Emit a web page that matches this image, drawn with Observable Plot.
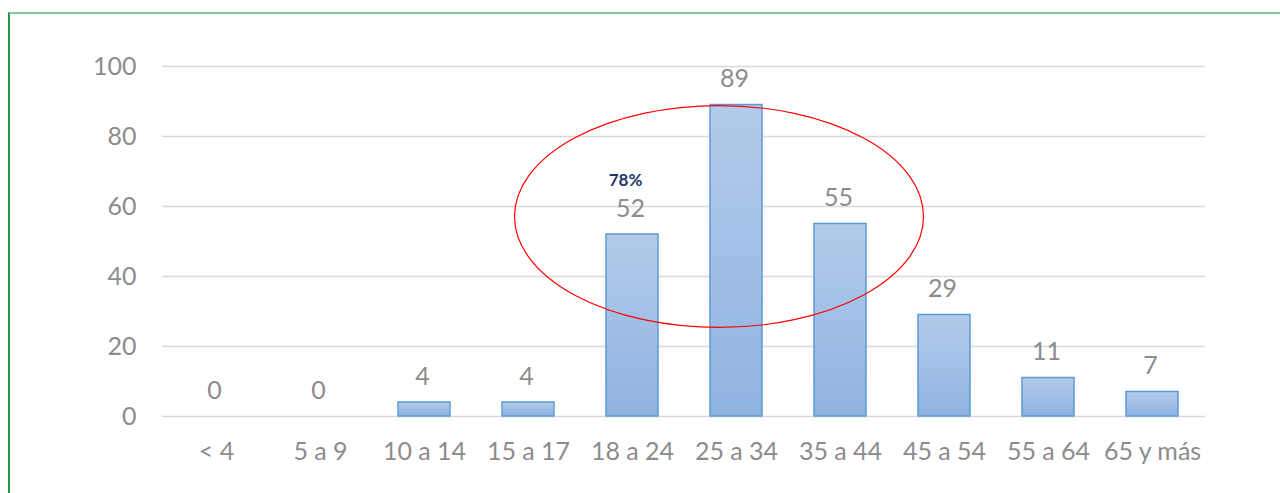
<!DOCTYPE html>
<html>
<head>
<meta charset="utf-8">
<script src="https://cdn.jsdelivr.net/npm/d3@7"></script>
<script src="https://cdn.jsdelivr.net/npm/@observablehq/plot@0.6"></script>
<style>
  html, body { margin: 0; padding: 0; background: #fff; }
  #wrap { position: relative; width: 1280px; height: 493px; overflow: hidden; }
  #frame { position: absolute; left: 8px; top: 12px; width: 1300px; height: 500px;
           border-top: 2px solid #7fc89c; border-left: 2px solid #1f9a45; box-sizing: border-box; }
  #chart { position: absolute; left: 0; top: 0; }
</style>
</head>
<body>
<div id="wrap"><div id="frame"></div><div id="chart"></div></div>
<script>
const categories = ["< 4", "5 a 9", "10 a 14", "15 a 17", "18 a 24", "25 a 34", "35 a 44", "45 a 54", "55 a 64", "65 y más"];
const values = [0, 0, 4, 4, 52, 89, 55, 29, 11, 7];
const yTicks = [0, 20, 40, 60, 80, 100];
const noteCategory = "18 a 24";
const noteValue = 52;
const noteText = "78%";
const ellipseCategory = "25 a 34";
const ellipseValue = 57;
const ellipseRadiusValue = 31.7;

const data = categories.map((c, i) => ({category: c, value: values[i]}));
const gray = "#8c8c8c";

const ellipseMark = (index, scales, vals, dims) => {
  const cx = scales.x(ellipseCategory) + scales.x.bandwidth() / 2 - 17;
  const cy = scales.y(ellipseValue);
  const ry = scales.y(0) - scales.y(ellipseRadiusValue);
  const e = document.createElementNS("http://www.w3.org/2000/svg", "ellipse");
  e.setAttribute("cx", cx);
  e.setAttribute("cy", cy);
  e.setAttribute("rx", 204.5);
  e.setAttribute("ry", ry);
  e.setAttribute("fill", "none");
  e.setAttribute("stroke", "#ff0000");
  e.setAttribute("stroke-width", 1.2);
  return e;
};

const chart = Plot.plot({
  width: 1280,
  height: 493,
  marginLeft: 162,
  marginRight: 75,
  marginTop: 66,
  marginBottom: 77,
  style: {fontFamily: "Lato, 'Open Sans', sans-serif", fontSize: "25px", color: gray, background: "transparent"},
  x: {domain: categories, paddingInner: 0.5, paddingOuter: 0.25, label: null, tickSize: 0, tickPadding: 26},
  y: {domain: [0, 100], ticks: yTicks, label: null, tickSize: 0, tickPadding: 26},
  marks: [
    Plot.gridY(yTicks, {stroke: "#d9d9d9", strokeOpacity: 1, strokeWidth: 1.3}),
    Plot.barY(data, {x: "category", y: "value", fill: "url(#barGrad)", stroke: "#5b9bd5", strokeWidth: 1.5}),
    Plot.text(data, {x: "category", y: "value", text: d => String(d.value), dx: -2, dy: -26, lineAnchor: "middle", fill: gray, fontSize: 25}),
    Plot.text([{category: noteCategory, value: noteValue, t: noteText}], {x: "category", y: "value", text: "t", dx: -7, dy: -54, lineAnchor: "middle", fill: "#1f3864", fontWeight: "bold", fontSize: 17}),
    ellipseMark
  ]
});

const defs = d3.select(chart).insert("defs", ":first-child");
const g = defs.append("linearGradient").attr("id", "barGrad").attr("x1", 0).attr("y1", 0).attr("x2", 0).attr("y2", 1);
g.append("stop").attr("offset", "0%").attr("stop-color", "#b3cbeb");
g.append("stop").attr("offset", "100%").attr("stop-color", "#8fb3e1");

document.getElementById("chart").appendChild(chart);
</script>
</body>
</html>
